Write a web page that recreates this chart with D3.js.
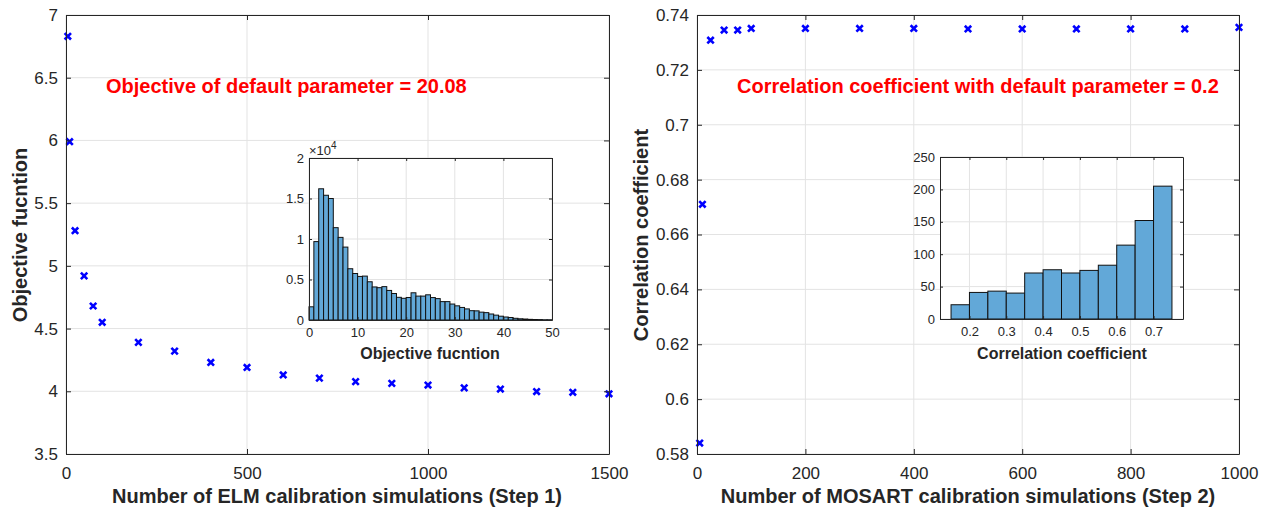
<!DOCTYPE html>
<html>
<head>
<meta charset="utf-8">
<script src="https://cdn.jsdelivr.net/npm/d3@7"></script>
<style>
  body { margin: 0; background: #fff; }
  svg text { font-family: "Liberation Sans", Arial, Helvetica, sans-serif; }
</style>
</head>
<body>
<svg id="chart" width="1267" height="510"></svg>
<script>
// ---- data ----
var elmRuns = [5, 10, 25, 50, 75, 100, 200, 300, 400, 500, 600, 700, 800, 900, 1000, 1100, 1200, 1300, 1400, 1500];
var elmObjective = [6.83, 5.99, 5.28, 4.92, 4.68, 4.55, 4.39, 4.32, 4.23, 4.19, 4.13, 4.105, 4.077, 4.063, 4.05, 4.027, 4.018, 3.998, 3.992, 3.98];

var mosartRuns = [5, 10, 25, 50, 75, 100, 200, 300, 400, 500, 600, 700, 800, 900, 1000];
var mosartCorr = [0.584, 0.671, 0.7308, 0.7345, 0.7345, 0.7351, 0.7351, 0.7351, 0.7351, 0.7349, 0.7349, 0.7349, 0.7349, 0.7349, 0.7355];

// histogram of objective function (counts), bins of width 1 from 0 to 50
var objBinLefts = d3.range(0, 50, 1);
var objCounts = [1630, 9680, 16200, 15400, 15000, 11400, 10200, 9000, 6330, 5740,
                 5380, 5420, 4720, 4080, 3990, 4120, 3650, 3270, 2800, 2680,
                 2780, 3360, 2950, 2950, 3110, 2770, 2640, 2270, 2270, 1970,
                 1750, 1550, 1370, 1150, 1130, 970, 910, 740, 600, 470,
                 370, 310, 210, 150, 120, 80, 60, 50, 30, 30];

// histogram of correlation coefficient, bins of width 0.05
var corrBinLefts = [0.15, 0.2, 0.25, 0.3, 0.35, 0.4, 0.45, 0.5, 0.55, 0.6, 0.65, 0.7];
var corrCounts = [22, 41, 43, 40, 71, 76, 71, 75, 83, 114, 152, 205];

var elmXTicks = [0, 500, 1000, 1500];
var elmYTicks = [3.5, 4, 4.5, 5, 5.5, 6, 6.5, 7];
var mosartXTicks = [0, 200, 400, 600, 800, 1000];
var mosartYTicks = [0.58, 0.6, 0.62, 0.64, 0.66, 0.68, 0.7, 0.72, 0.74];
var objHistXTicks = [0, 10, 20, 30, 40, 50];
var objHistYTicks = [0, 5000, 10000, 15000, 20000];
var corrHistXTicks = [0.2, 0.3, 0.4, 0.5, 0.6, 0.7];
var corrHistYTicks = [0, 50, 100, 150, 200, 250];

var svg = d3.select("#chart");
var axisColor = "#262626",
    gridColor = "#e3e3e3",
    barColor = "#62a8d8";

// draws a boxed MATLAB-like axes with grid, returns scales
function boxAxes(g, opt) {
  var x = d3.scaleLinear().domain(opt.xDomain).range([opt.left, opt.left + opt.width]),
      y = d3.scaleLinear().domain(opt.yDomain).range([opt.top + opt.height, opt.top]);

  g.append("rect")
    .attr("x", opt.left).attr("y", opt.top)
    .attr("width", opt.width).attr("height", opt.height)
    .attr("fill", "#fff");

  var grid = g.append("g");
  grid.selectAll(".gx").data(opt.xTicks).enter().append("line")
    .attr("x1", x).attr("x2", x)
    .attr("y1", opt.top).attr("y2", opt.top + opt.height)
    .attr("stroke", gridColor).attr("stroke-width", 1);
  grid.selectAll(".gy").data(opt.yTicks).enter().append("line")
    .attr("x1", opt.left).attr("x2", opt.left + opt.width)
    .attr("y1", y).attr("y2", y)
    .attr("stroke", gridColor).attr("stroke-width", 1);

  var plot = g.append("g");

  var frame = g.append("g");
  var tl = opt.tickLen;
  var bottom = d3.axisBottom(x).tickValues(opt.xTicks).tickSizeInner(-tl).tickSizeOuter(0)
        .tickPadding(opt.xPad).tickFormat(opt.xFormat || d3.format("")),
      left = d3.axisLeft(y).tickValues(opt.yTicks).tickSizeInner(-tl).tickSizeOuter(0)
        .tickPadding(opt.yPad).tickFormat(opt.yFormat || d3.format("")),
      top = d3.axisTop(x).tickValues(opt.xTicks).tickSizeInner(-tl).tickSizeOuter(0).tickFormat(""),
      right = d3.axisRight(y).tickValues(opt.yTicks).tickSizeInner(-tl).tickSizeOuter(0).tickFormat("");

  [[bottom, "translate(0," + (opt.top + opt.height) + ")"],
   [left, "translate(" + opt.left + ",0)"],
   [top, "translate(0," + opt.top + ")"],
   [right, "translate(" + (opt.left + opt.width) + ",0)"]].forEach(function(a) {
    var ax = frame.append("g").attr("transform", a[1]).call(a[0]);
    ax.select(".domain").attr("stroke", axisColor).attr("stroke-width", 1);
    ax.selectAll(".tick line").attr("stroke", axisColor);
    ax.selectAll("text")
      .attr("fill", axisColor)
      .style("font-size", opt.fontSize + "px")
      .style("font-family", "'Liberation Sans', Arial, sans-serif");
  });

  return {x: x, y: y, plot: plot};
}

function markerScatter(ax, xs, ys) {
  ax.plot.selectAll(".pt").data(xs).enter().append("path")
    .attr("transform", function(d, i) { return "translate(" + ax.x(d) + "," + ax.y(ys[i]) + ")"; })
    .attr("d", "M-3.2,-3.2L3.2,3.2M-3.2,3.2L3.2,-3.2")
    .attr("stroke", "#0000ff")
    .attr("stroke-width", 2.6)
    .attr("fill", "none");
}

function histBars(ax, lefts, counts, w) {
  ax.plot.selectAll(".bar").data(lefts).enter().append("rect")
    .attr("x", function(d) { return ax.x(d); })
    .attr("width", function(d) { return ax.x(d + w) - ax.x(d); })
    .attr("y", function(d, i) { return ax.y(counts[i]); })
    .attr("height", function(d, i) { return ax.y(0) - ax.y(counts[i]); })
    .attr("fill", barColor)
    .attr("stroke", "#111")
    .attr("stroke-width", 1);
}

function label(text, x, y, size, opts) {
  var t = svg.append("text")
    .attr("x", x).attr("y", y)
    .attr("text-anchor", opts.anchor || "middle")
    .attr("fill", opts.color || axisColor)
    .style("font-size", size + "px")
    .style("font-weight", opts.bold ? "bold" : "normal")
    .text(text);
  if (opts.rotate) t.attr("transform", "rotate(-90," + x + "," + y + ")");
  return t;
}

// ---- left panel ----
var gL = svg.append("g");
var axL = boxAxes(gL, {
  left: 66, top: 15, width: 543, height: 439,
  xDomain: [0, 1500], yDomain: [3.5, 7],
  xTicks: elmXTicks, yTicks: elmYTicks,
  tickLen: 5, fontSize: 17, xPad: 13, yPad: 8
});
markerScatter(axL, elmRuns, elmObjective);

label("Objective fucntion", 27, 235, 20, {bold: true, rotate: true});
label("Number of ELM calibration simulations (Step 1)", 337, 503, 20, {bold: true});
label("Objective of default parameter = 20.08", 106, 93, 20, {bold: true, color: "#ff0000", anchor: "start"});

var insL = boxAxes(gL.append("g"), {
  left: 309, top: 158, width: 243, height: 162,
  xDomain: [0, 50], yDomain: [0, 20000],
  xTicks: objHistXTicks, yTicks: objHistYTicks,
  tickLen: 3, fontSize: 13, xPad: 8, yPad: 5,
  yFormat: function(d) { return d3.format("")(d / 10000); }
});
histBars(insL, objBinLefts, objCounts, 1);
label("Objective fucntion", 430, 359, 16, {bold: true});
var exp = svg.append("text").attr("x", 309).attr("y", 155)
  .attr("fill", axisColor).style("font-size", "13px");
exp.append("tspan").text("\u00d710");
exp.append("tspan").attr("dy", -6).style("font-size", "10px").text("4");

// ---- right panel ----
var gR = svg.append("g");
var axR = boxAxes(gR, {
  left: 697, top: 15, width: 542, height: 439,
  xDomain: [0, 1000], yDomain: [0.58, 0.74],
  xTicks: mosartXTicks, yTicks: mosartYTicks,
  tickLen: 5, fontSize: 17, xPad: 13, yPad: 8,
  yFormat: function(d) { return d3.format("")(+d.toFixed(2)); }
});
markerScatter(axR, mosartRuns, mosartCorr);

label("Correlation coefficient", 648, 235, 20, {bold: true, rotate: true});
label("Number of MOSART calibration simulations (Step 2)", 968, 503, 20, {bold: true});
label("Correlation coefficient with default parameter = 0.2", 737, 93, 20, {bold: true, color: "#ff0000", anchor: "start"});

var insR = boxAxes(gR.append("g"), {
  left: 940, top: 157, width: 243, height: 162,
  xDomain: [0.12, 0.78], yDomain: [0, 250],
  xTicks: corrHistXTicks, yTicks: corrHistYTicks,
  tickLen: 3, fontSize: 13, xPad: 8, yPad: 5
});
histBars(insR, corrBinLefts, corrCounts, 0.05);
label("Correlation coefficient", 1062, 359, 16, {bold: true});
</script>
</body>
</html>
